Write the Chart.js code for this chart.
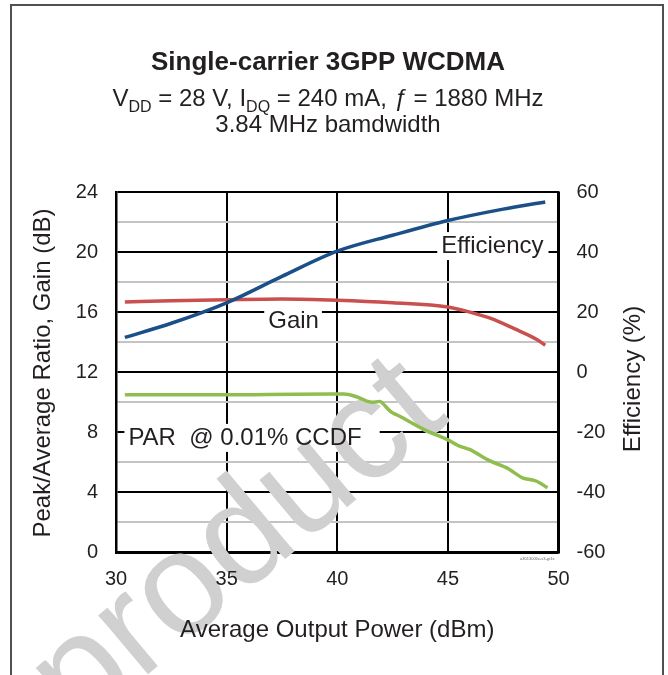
<!DOCTYPE html>
<html lang="en">
<head>
<meta charset="UTF-8">
<title>Single-carrier 3GPP WCDMA</title>
<style>
  body { margin: 0; background: #fff; overflow: hidden; }
  #chart { display: block; }
</style>
</head>
<body>
<canvas id="chart" width="668" height="675"></canvas>
<script src="https://cdn.jsdelivr.net/npm/chart.js"></script>
<script>
const FONT = "'Liberation Sans', Arial, sans-serif";
const INK = '#231f20';

// average output power (dBm) per curve
const effPower   = [30.4, 32.5, 35, 37.5, 40, 42.5, 45, 47.5, 49.4];
const efficiency = [11.6, 16.3, 23.1, 31.9, 40.3, 45.6, 50.5, 54.3, 56.7];

const gainPower = [30.4, 32.5, 35, 37.5, 40, 42.5, 45, 46, 47, 48, 49, 49.4];
const gain      = [16.68, 16.76, 16.83, 16.88, 16.8, 16.63, 16.35, 16.0, 15.55, 14.9, 14.2, 13.8];

const parPower = [30.4, 35, 40.3, 40.8, 41.3, 41.6, 41.95, 42.4, 42.85, 43.9, 45, 45.5, 46, 46.9, 47.7, 48.4, 48.9, 49.2, 49.5];
const par      = [10.5, 10.5, 10.55, 10.4, 10.1, 10.0, 10.05, 9.4, 9.05, 8.2, 7.5, 7.1, 6.85, 6.1, 5.6, 4.95, 4.8, 4.6, 4.3];

const xTicks     = [30, 35, 40, 45, 50];
const leftTicks  = [0, 4, 8, 12, 16, 20, 24];
const rightTicks = [-60, -40, -20, 0, 20, 40, 60];

// curve labels, anchored in data units (x = dBm, y = dB on left axis)
const curveLabels = [
  { text: 'Efficiency', x: 44.7, y: 20.4, extra: 5 },
  { text: 'Gain', x: 36.88, y: 15.4, extra: 3 },
  { text: 'PAR  @ 0.01% CCDF', x: 30.56, y: 7.63, extra: 18 }
];

const pts = (xs, ys) => xs.map((x, i) => ({ x: x, y: ys[i] }));

function labelBox(ctx, chart, l) {
  const px = chart.scales.x.getPixelForValue(l.x);
  const py = chart.scales.y.getPixelForValue(l.y);
  ctx.font = '24px ' + FONT;
  const w = ctx.measureText(l.text).width;
  return { px, py, x0: px - 4, w: w + 4 + l.extra };
}

const decor = {
  id: 'decor',
  beforeDatasetsDraw(chart) {
    const ctx = chart.ctx;
    ctx.save();
    // white patches behind the curve labels
    ctx.fillStyle = '#fff';
    curveLabels.forEach(l => {
      const b = labelBox(ctx, chart, l);
      ctx.fillRect(b.x0, b.py - 14, b.w, 28);
    });
    // watermark
    ctx.translate(78, 733);
    ctx.rotate(-40 * Math.PI / 180);
    ctx.font = '146px ' + FONT;
    ctx.fillStyle = '#d0d0d0';
    ctx.textBaseline = 'alphabetic';
    ctx.fillText('product', 0, 0);
    ctx.restore();
  },
  afterDatasetsDraw(chart) {
    const ctx = chart.ctx;
    ctx.save();
    ctx.fillStyle = INK;
    ctx.textBaseline = 'middle';
    ctx.textAlign = 'left';
    curveLabels.forEach(l => {
      const b = labelBox(ctx, chart, l);
      ctx.fillText(l.text, b.px, b.py);
    });
    ctx.restore();
  },
  afterDraw(chart) {
    const ctx = chart.ctx;
    const area = chart.chartArea;
    const cx = 328;
    ctx.save();
    ctx.fillStyle = INK;
    ctx.textBaseline = 'alphabetic';

    // title
    ctx.textAlign = 'center';
    ctx.font = 'bold 26px ' + FONT;
    ctx.fillText('Single-carrier 3GPP WCDMA', cx, 70);

    // subtitle with subscripts
    const main = '24px ' + FONT, sub = '16px ' + FONT, ital = 'italic 24px ' + FONT;
    const parts = [
      ['V', main, 0], ['DD', sub, 6], [' = 28 V, I', main, 0], ['DQ', sub, 6],
      [' = 240 mA, ', main, 0], ['\u0192', ital, 0], [' = 1880 MHz', main, 0]
    ];
    let total = 0;
    parts.forEach(p => { ctx.font = p[1]; total += ctx.measureText(p[0]).width; });
    let x = cx - total / 2;
    ctx.textAlign = 'left';
    parts.forEach(p => {
      ctx.font = p[1];
      ctx.fillText(p[0], x, 106 + p[2]);
      x += ctx.measureText(p[0]).width;
    });
    ctx.textAlign = 'center';
    ctx.font = main;
    ctx.fillText('3.84 MHz bamdwidth', cx, 132);

    // axis titles
    ctx.textBaseline = 'middle';
    ctx.fillText('Average Output Power (dBm)', (area.left + area.right) / 2, 630);
    ctx.save();
    ctx.translate(43, 373);
    ctx.rotate(-Math.PI / 2);
    ctx.fillText('Peak/Average Ratio, Gain (dB)', 0, 0);
    ctx.restore();
    ctx.save();
    ctx.translate(633, 379);
    ctx.rotate(-Math.PI / 2);
    ctx.fillText('Efficiency (%)', 0, 0);
    ctx.restore();

    // tiny figure id
    ctx.font = '4px ' + FONT;
    ctx.fillStyle = '#666';
    ctx.textAlign = 'right';
    ctx.fillText('a3013006x-v3-gr1x', area.right - 4, area.bottom + 6);

    // frame
    ctx.strokeStyle = '#505050';
    ctx.lineWidth = 2;
    ctx.strokeRect(11, 5, 652, 700);
    ctx.restore();
  }
};

const tickFont = { family: FONT, size: 20 };

new Chart(document.getElementById('chart'), {
  type: 'line',
  data: {
    datasets: [
      { label: 'Efficiency', data: pts(effPower, efficiency), yAxisID: 'y2',
        borderColor: '#1a4f88', borderWidth: 3.5, pointRadius: 0, cubicInterpolationMode: 'monotone' },
      { label: 'Gain', data: pts(gainPower, gain), yAxisID: 'y',
        borderColor: '#c9504f', borderWidth: 3.5, pointRadius: 0, cubicInterpolationMode: 'monotone' },
      { label: 'PAR', data: pts(parPower, par), yAxisID: 'y',
        borderColor: '#8fbd4e', borderWidth: 3.5, pointRadius: 0, tension: 0.25 }
    ]
  },
  options: {
    responsive: false,
    animation: false,
    layout: { padding: { top: 192, left: 0, right: 0, bottom: 0 } },
    plugins: { legend: { display: false }, tooltip: { enabled: false } },
    scales: {
      x: {
        type: 'linear', min: 30, max: 50,
        afterBuildTicks: s => { s.ticks = xTicks.map(v => ({ value: v })); },
        afterFit: s => { s.height = 122.5; },
        ticks: { color: INK, font: tickFont, padding: 15, z: 1 },
        grid: { color: '#000', lineWidth: 2, drawTicks: false },
        border: { color: '#000', width: 2.5 }
      },
      y: {
        position: 'left', min: 0, max: 24,
        afterFit: s => { s.width = 116; },
        ticks: { stepSize: 2, color: INK, font: tickFont, padding: 18, z: 1,
                 callback: v => leftTicks.includes(v) ? v : '' },
        grid: { color: c => leftTicks.includes(c.tick.value) ? '#000' : '#c4c4c4',
                lineWidth: 2, drawTicks: false },
        border: { color: '#000', width: 2.5 }
      },
      y2: {
        position: 'right', min: -60, max: 60,
        afterBuildTicks: s => { s.ticks = rightTicks.map(v => ({ value: v })); },
        afterFit: s => { s.width = 109.5; },
        ticks: { color: INK, font: tickFont, padding: 18, z: 1 },
        grid: { display: false, drawTicks: false },
        border: { color: '#000', width: 2.5 }
      }
    }
  },
  plugins: [decor]
});
</script>
</body>
</html>
